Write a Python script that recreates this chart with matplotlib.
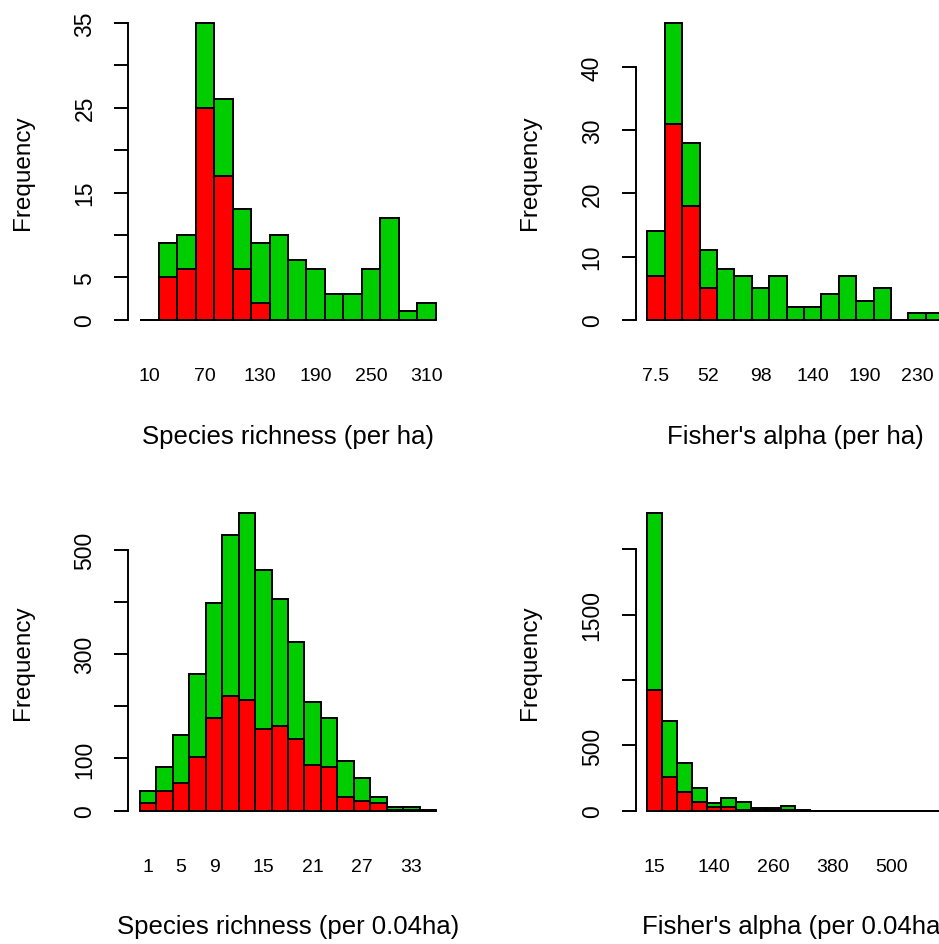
import numpy as np
import matplotlib
matplotlib.use("Agg")
import matplotlib.pyplot as plt

plt.rcParams['font.family'] = ['Liberation Sans', 'DejaVu Sans']

GREEN = '#00CD00'
RED = '#FF0000'

# species richness per ha (bins of 20, centres 10, 30, ...)
rich_ha_red = [0, 5, 6, 25, 17, 6, 2, 0, 0, 0, 0, 0, 0, 0, 0, 0]
rich_ha_green = [0, 4, 4, 10, 9, 7, 7, 10, 7, 6, 3, 3, 6, 12, 1, 2]
rich_ha_label_bars = [0, 3, 6, 9, 12, 15]
rich_ha_labels = ['10', '70', '130', '190', '250', '310']
rich_ha_yticks = [0, 5, 10, 15, 20, 25, 30, 35]
rich_ha_ylabels = ['0', '5', '', '15', '', '25', '', '35']

# Fisher's alpha per ha (bins of 15, centres 7.5, 22.5, ...)
alpha_ha_red = [7, 31, 18, 5, 0, 0, 0, 0, 0, 0, 0, 0, 0, 0, 0, 0, 0]
alpha_ha_green = [7, 16, 10, 6, 8, 7, 5, 7, 2, 2, 4, 7, 3, 5, 0, 1, 1]
alpha_ha_label_bars = [0, 3, 6, 9, 12, 15]
alpha_ha_labels = ['7.5', '52', '98', '140', '190', '230']
alpha_ha_yticks = [0, 10, 20, 30, 40]
alpha_ha_ylabels = ['0', '10', '20', '30', '40']

# species richness per 0.04 ha (bins of 2, centres 1, 3, ...)
rich_sub_red = [15, 37, 53, 103, 178, 220, 212, 156, 162, 137, 88, 84, 27, 18, 15, 2, 2, 0]
rich_sub_green = [23, 47, 92, 159, 220, 307, 357, 304, 244, 186, 121, 94, 69, 44, 12, 5, 5, 1]
rich_sub_label_bars = [0, 2, 4, 7, 10, 13, 16]
rich_sub_labels = ['1', '5', '9', '15', '21', '27', '33']
rich_sub_yticks = [0, 100, 200, 300, 400, 500]
rich_sub_ylabels = ['0', '100', '', '300', '', '500']

# Fisher's alpha per 0.04 ha (bins of 30, centres 15, 45, ...)
alpha_sub_red = [922, 260, 140, 64, 25, 25, 8, 5, 3, 8, 1, 0, 0, 0, 0, 0, 0, 0, 0, 0]
alpha_sub_green = [1353, 428, 224, 107, 34, 69, 56, 13, 15, 27, 2, 1, 1, 1, 0, 1, 0, 0, 1, 0]
alpha_sub_label_bars = [0, 4, 8, 12, 16]
alpha_sub_labels = ['15', '140', '260', '380', '500']
alpha_sub_yticks = [0, 500, 1000, 1500, 2000]
alpha_sub_ylabels = ['0', '500', '', '1500', '']

W, H = 939, 945
fig = plt.figure(figsize=(W / 100, H / 100), dpi=100)

# plot regions in pixels: left, top, right, bottom
COL_LEFT = [128.2, 635.5]
COL_W = 319.6
ROW_TOP = [12.0, 502.6]
ROW_BOTTOM = [332.6, 823.6]
YLAB_X = 22.5      # centre of "Frequency", px left of plot region start offset
XTICK_PAD = 25.5
XLAB_Y = [437.0, 927.5]


def panel(col, row, red, green, label_bars, labels, yticks, ylabels, xlabel):
    left = COL_LEFT[col]
    top = ROW_TOP[row]
    bottom = ROW_BOTTOM[row]
    h = bottom - top
    ax = fig.add_axes([left / W, 1 - bottom / H, COL_W / W, h / H])

    red = np.array(red)
    green = np.array(green)
    n = len(red)
    x = np.arange(n) + 0.5
    ax.bar(x, red, width=1, color=RED, edgecolor='black', linewidth=1.4)
    ax.bar(x, green, width=1, bottom=red, color=GREEN, edgecolor='black', linewidth=1.4)

    top_val = (red + green).max()
    ax.set_xlim(-0.04 * n, 1.04 * n)
    ax.set_ylim(-0.04 * top_val, 1.04 * top_val)

    for s in ['top', 'right', 'bottom']:
        ax.spines[s].set_visible(False)
    ax.spines['left'].set_linewidth(1.4)
    ax.spines['left'].set_bounds(yticks[0], yticks[-1])

    ax.set_yticks(yticks, ylabels)
    ax.tick_params(axis='y', length=10.4, width=1.4, labelsize=16.5, pad=12.5,
                   labelrotation=90)
    plt.setp(ax.get_yticklabels(), va='center')

    ax.set_xticks(np.array(label_bars) + 0.5, labels)
    ax.tick_params(axis='x', length=0, labelsize=14, pad=XTICK_PAD)

    ax.set_ylabel('Frequency', fontsize=17.5)
    ax.yaxis.label.set_va('center')
    ax.yaxis.set_label_coords((left - 105.7 - left) / COL_W, 0.5)

    ax.set_xlabel(xlabel, fontsize=18.5)
    ax.xaxis.label.set_va('center')
    ax.xaxis.set_label_coords(0.5, (bottom - XLAB_Y[row]) / h)
    return ax


panel(0, 0, rich_ha_red, rich_ha_green, rich_ha_label_bars, rich_ha_labels,
      rich_ha_yticks, rich_ha_ylabels, 'Species richness (per ha)')
panel(1, 0, alpha_ha_red, alpha_ha_green, alpha_ha_label_bars, alpha_ha_labels,
      alpha_ha_yticks, alpha_ha_ylabels, "Fisher's alpha (per ha)")
panel(0, 1, rich_sub_red, rich_sub_green, rich_sub_label_bars, rich_sub_labels,
      rich_sub_yticks, rich_sub_ylabels, 'Species richness (per 0.04ha)')
panel(1, 1, alpha_sub_red, alpha_sub_green, alpha_sub_label_bars, alpha_sub_labels,
      alpha_sub_yticks, alpha_sub_ylabels, "Fisher's alpha (per 0.04ha)")

fig.savefig('out.png', dpi=100)
